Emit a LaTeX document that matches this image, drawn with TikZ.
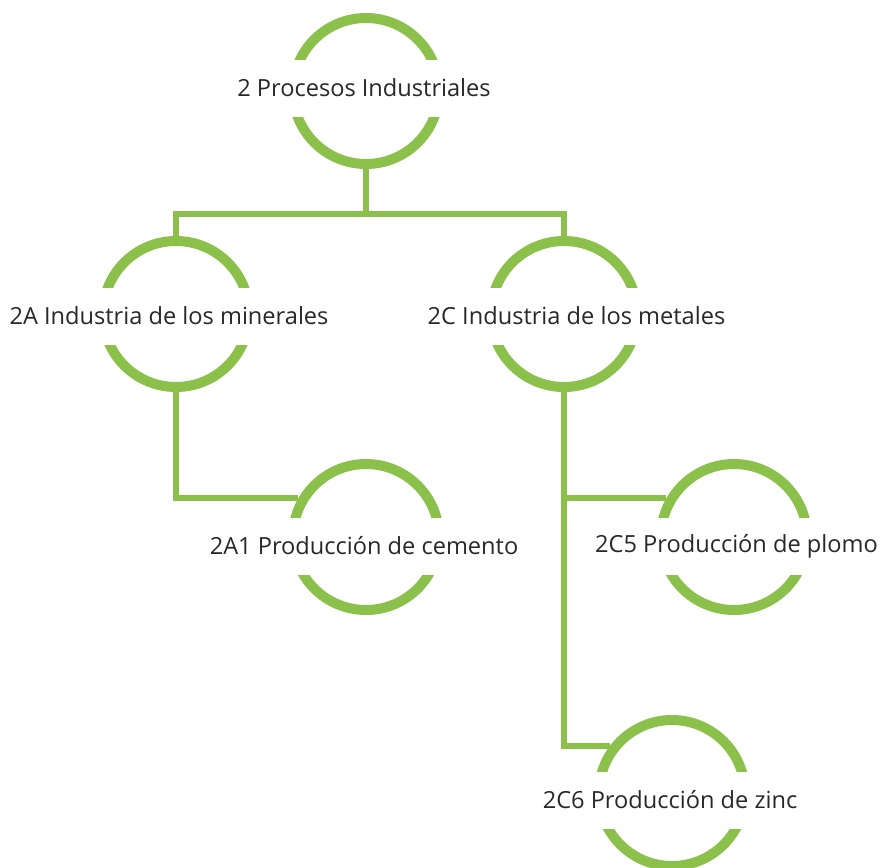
\documentclass[tikz,border=0pt]{standalone}
\usepackage{fontspec}
\setmainfont{Open Sans}
\definecolor{leaf}{RGB}{139,193,74}
\definecolor{ink}{RGB}{40,40,40}
\tikzset{
  ring/.style={circle, draw=leaf, line width=10pt, minimum size=146pt, inner sep=0pt},
  lbl/.style={fill=white, text=ink, font=\fontsize{23.6}{28}\selectfont, minimum height=57pt, inner xsep=2pt},
  link/.style={draw=leaf, line width=6pt}
}
\begin{document}
\begin{tikzpicture}[x=1pt, y=-1pt]
\useasboundingbox (0,0) rectangle (882,867);
% rings
\node[ring] (n0) at (366,91) {};
\node[ring] (nA) at (176,314) {};
\node[ring] (nC) at (564,314) {};
\node[ring] (nA1) at (366,537) {};
\node[ring] (nC5) at (734,537) {};
\node[ring] (nC6) at (672,793) {};
\coordinate (j) at (364.5,213.5);
% connectors
\draw[link] (n0.south) -- (n0.south |- j);
\draw[link] (nA.north) |- (j) -| (nC.north);
\draw[link] (nA.south) |- (nA1.150);
\draw[link] (nC.south) |- (nC6.143);
\draw[link] (nC.south |- nC5.150) -- (nC5.150);
% labels
\node[lbl] (l0) at (364,88) {2 Procesos Industriales};
\node[lbl] (lA) at (169,316) {2A Industria de los minerales};
\node[lbl] (lC) at (576.5,316) {2C Industria de los metales};
\node[lbl] (lA1) at (364,546) {2A1 Producción de cemento};
\node[lbl] (lC5) at (736.5,546) {2C5 Producción de plomo};
\node[lbl] (lC6) at (670,800) {2C6 Producción de zinc};
\end{tikzpicture}
\end{document}
